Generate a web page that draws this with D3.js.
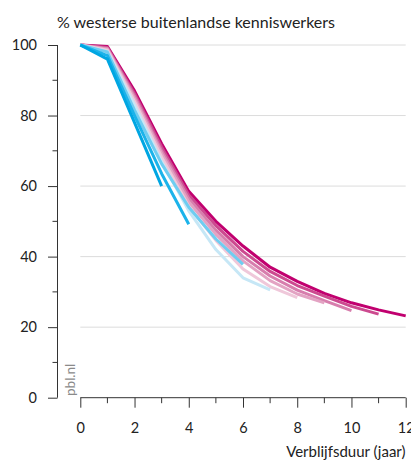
<!DOCTYPE html>
<html><head><meta charset="utf-8">
<script src="https://cdn.jsdelivr.net/npm/d3@7"></script>
<style>
html,body{margin:0;padding:0;background:#fff;}
svg{display:block;font-family:Lato,"Open Sans",sans-serif;}
</style></head>
<body><div id="chart"></div>
<script>
const years = [0,1,2,3,4,5,6,7,8,9,10,11,12];
const seriesNames = ["c12","c11","c10","c9","c8","c7","c6","c4","c3"];
const c12 = [100,99.6,87,72,58.5,50,43,37,33,29.6,26.9,24.9,23.2];
const c11 = [100,99.3,86.2,71,57.5,48.8,41.5,35.8,31.8,28.8,25.9,23.7];
const c10 = [100,99,85.5,70,56.5,47.5,40,34.5,30.5,27.5,24.7];
const c9  = [100,98.8,84.8,69.2,55.5,46.3,38.8,33.2,29.4,26.9];
const c8  = [100,98.5,84,68.2,54.3,44.6,36.5,31.5,28.4];
const c7  = [100,98.2,83,67,53,42,34,30.6];
const c6  = [100,98,81.5,66.3,54,45,37.8];
const c4  = [100,97,80,63.5,49.2];
const c3  = [100,96,78,60];
const seriesValues = [c12,c11,c10,c9,c8,c7,c6,c4,c3];
const seriesColors = ["#c1006f","#cc4a8f","#d77ead","#e3a3c3","#efc8da","#c6e7f6","#6fcdf1","#1bb3ea","#00a6e2"];
const yTicks = [0,20,40,60,80,100];
const yMinor = [10,30,50,70,90];
const xTicks = [0,2,4,6,8,10,12];
const xMinor = [1,3,5,7,9,11];
const title = "% westerse buitenlandse kenniswerkers";
const xTitle = "Verblijfsduur (jaar)";
const source = "pbl.nl";

const W = 411, H = 463;
const svg = d3.select("#chart").append("svg").attr("width", W).attr("height", H);
const x = d3.scaleLinear().domain([0,12]).range([80.3,405.7]);
const y = d3.scaleLinear().domain([0,100]).range([397.7,45]);
const yAxisX = 57.5;

// gridlines
svg.append("g").selectAll("line").data(yTicks.filter(d=>d>0)).join("line")
  .attr("x1", x(0)).attr("x2", x(12))
  .attr("y1", d=>y(d)).attr("y2", d=>y(d))
  .attr("stroke", "#dcdcdc").attr("stroke-width", 1);

// y axis
const yg = svg.append("g").attr("transform", `translate(${yAxisX},0)`);
yg.call(d3.axisLeft(y).tickValues(yTicks).tickSize(9.5).tickPadding(11).tickFormat(d3.format("d")));
yg.select(".domain").attr("d", `M0,${y(100)}V${y(0)}`).attr("stroke","#333");
yg.selectAll(".tick line").attr("stroke","#333");
yg.selectAll(".tick text").attr("font-size",14.5).attr("fill","#222")
  .attr("font-family","Lato,'Open Sans',sans-serif");
yg.selectAll(".minor").data(yMinor).join("line").attr("class","minor")
  .attr("x1",-5).attr("x2",0).attr("y1",d=>y(d)).attr("y2",d=>y(d)).attr("stroke","#333");

// x axis
const xg = svg.append("g").attr("transform", `translate(0,${y(0)})`);
xg.call(d3.axisBottom(x).tickValues(xTicks).tickSize(10).tickPadding(15).tickFormat(d3.format("d")));
xg.select(".domain").attr("d", `M${x(0)},0H${x(12)}`).attr("stroke","#333");
xg.selectAll(".tick line").attr("stroke","#333");
xg.selectAll(".tick text").attr("font-size",14.5).attr("fill","#222")
  .attr("font-family","Lato,'Open Sans',sans-serif");
xg.selectAll(".minor").data(xMinor).join("line").attr("class","minor")
  .attr("x1",d=>x(d)).attr("x2",d=>x(d)).attr("y1",0).attr("y2",5.5).attr("stroke","#333");

// lines
const line = d3.line().x((d,i)=>x(years[i])).y(d=>y(d));
svg.append("g").selectAll("path").data(seriesValues).join("path")
  .attr("d", d=>line(d))
  .attr("fill","none")
  .attr("stroke",(d,i)=>seriesColors[i])
  .attr("stroke-width",3)
  .attr("stroke-linejoin","round");

// texts
svg.append("text").attr("x",57).attr("y",28).attr("font-size",16).attr("fill","#222").text(title);
svg.append("text").attr("x",405.5).attr("y",457).attr("text-anchor","end").attr("font-size",15).attr("fill","#222").text(xTitle);
svg.append("text").attr("transform","translate(74.5,396) rotate(-90)").attr("font-size",13.5).attr("fill","#8a8a8a").text(source);
</script></body></html>
